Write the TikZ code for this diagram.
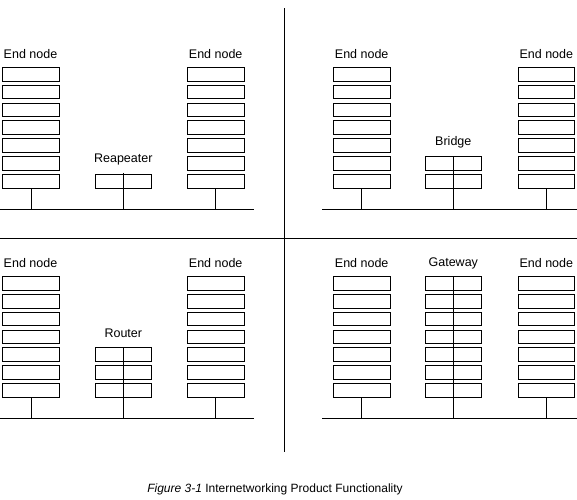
\documentclass[tikz,border=0pt]{standalone}
\usepackage{fontspec}
\setmainfont{Liberation Sans}
\newcommand\mystack[4]{%
  \foreach \j in {#4,...,7}{%
    \node[cell] (#1-\j) at (#2,{#3+6.85+17.85*(\j-1)}) {};}}
\begin{document}
\begin{tikzpicture}[x=1pt,y=-1pt,line width=0.9pt,
  cell/.style={draw,rectangle,minimum width=56.5pt,minimum height=13.7pt,inner sep=0pt,outer sep=0pt},
  lbl/.style={font=\fontsize{12.5}{14}\selectfont,anchor=base,inner sep=0pt},
  link/.style={draw}]
\useasboundingbox (0,0) rectangle (577,499);
% dividers
\coordinate (vt) at (284.3,8.3);
\coordinate (vb) at (284.3,452.3);
\coordinate (hl) at (0,238.3);
\coordinate (hr) at (577,238.3);
\draw (vt) -- (vb);
\draw (hl) -- (hr);
% buses
\coordinate (b1l) at (0,209.3);   \coordinate (b1r) at (254,209.3);
\coordinate (b2l) at (322.3,209.3); \coordinate (b2r) at (577,209.3);
\coordinate (b3l) at (0,418.3);   \coordinate (b3r) at (254,418.3);
\coordinate (b4l) at (322.3,418.3); \coordinate (b4r) at (577,418.3);
\draw (b1l) -- (b1r);
\draw (b2l) -- (b2r);
\draw (b3l) -- (b3r);
\draw (b4l) -- (b4r);
% ---- top left: repeater
\mystack{a}{31}{67.3}{1}
\mystack{b}{123.3}{67.3}{7}
\mystack{c}{215.7}{67.3}{1}
\node[lbl] (la) at (30.5,58.5) {End node};
\node[lbl] (lc) at (215.7,58.5) {End node};
\node[lbl] (lb) at (123.3,162.6) {Reapeater};
\draw (a-7.south) -- (a-7.south |- b1l);
\draw (c-7.south) -- (c-7.south |- b1l);
\draw ([yshift=1.5pt]b-7.north) -- (b-7.north |- b1l);
% ---- top right: bridge
\mystack{d}{361.7}{67.3}{1}
\mystack{e}{453.3}{67.3}{6}
\mystack{f}{546.3}{67.3}{1}
\node[lbl] (ld) at (361.7,58.5) {End node};
\node[lbl] (lf) at (546.3,58.5) {End node};
\node[lbl] (le) at (453.3,145) {Bridge};
\draw (d-7.south) -- (d-7.south |- b2l);
\draw (f-7.south) -- (f-7.south |- b2l);
\draw (e-6.north) -- (e-6.north |- b2l);
% ---- bottom left: router
\mystack{g}{31}{276.5}{1}
\mystack{h}{123.3}{276.5}{5}
\mystack{i}{215.7}{276.5}{1}
\node[lbl] (lg) at (30.5,267.7) {End node};
\node[lbl] (li) at (215.7,267.7) {End node};
\node[lbl] (lh) at (123.3,337.3) {Router};
\draw (g-7.south) -- (g-7.south |- b3l);
\draw (i-7.south) -- (i-7.south |- b3l);
\draw (h-5.north) -- (h-5.north |- b3l);
% ---- bottom right: gateway
\mystack{k}{361.7}{276.5}{1}
\mystack{m}{453.3}{276.5}{1}
\mystack{n}{546.3}{276.5}{1}
\node[lbl] (lk) at (361.7,267.7) {End node};
\node[lbl] (ln) at (546.3,267.7) {End node};
\node[lbl] (lm) at (453.3,266.5) {Gateway};
\draw (k-7.south) -- (k-7.south |- b4l);
\draw (n-7.south) -- (n-7.south |- b4l);
\draw (m-1.north) -- (m-1.north |- b4l);
% caption
\node[lbl,font=\fontsize{12}{14}\selectfont] (cap) at (275,492.5) {\textit{Figure 3-1} Internetworking Product Functionality};
\end{tikzpicture}
\end{document}
